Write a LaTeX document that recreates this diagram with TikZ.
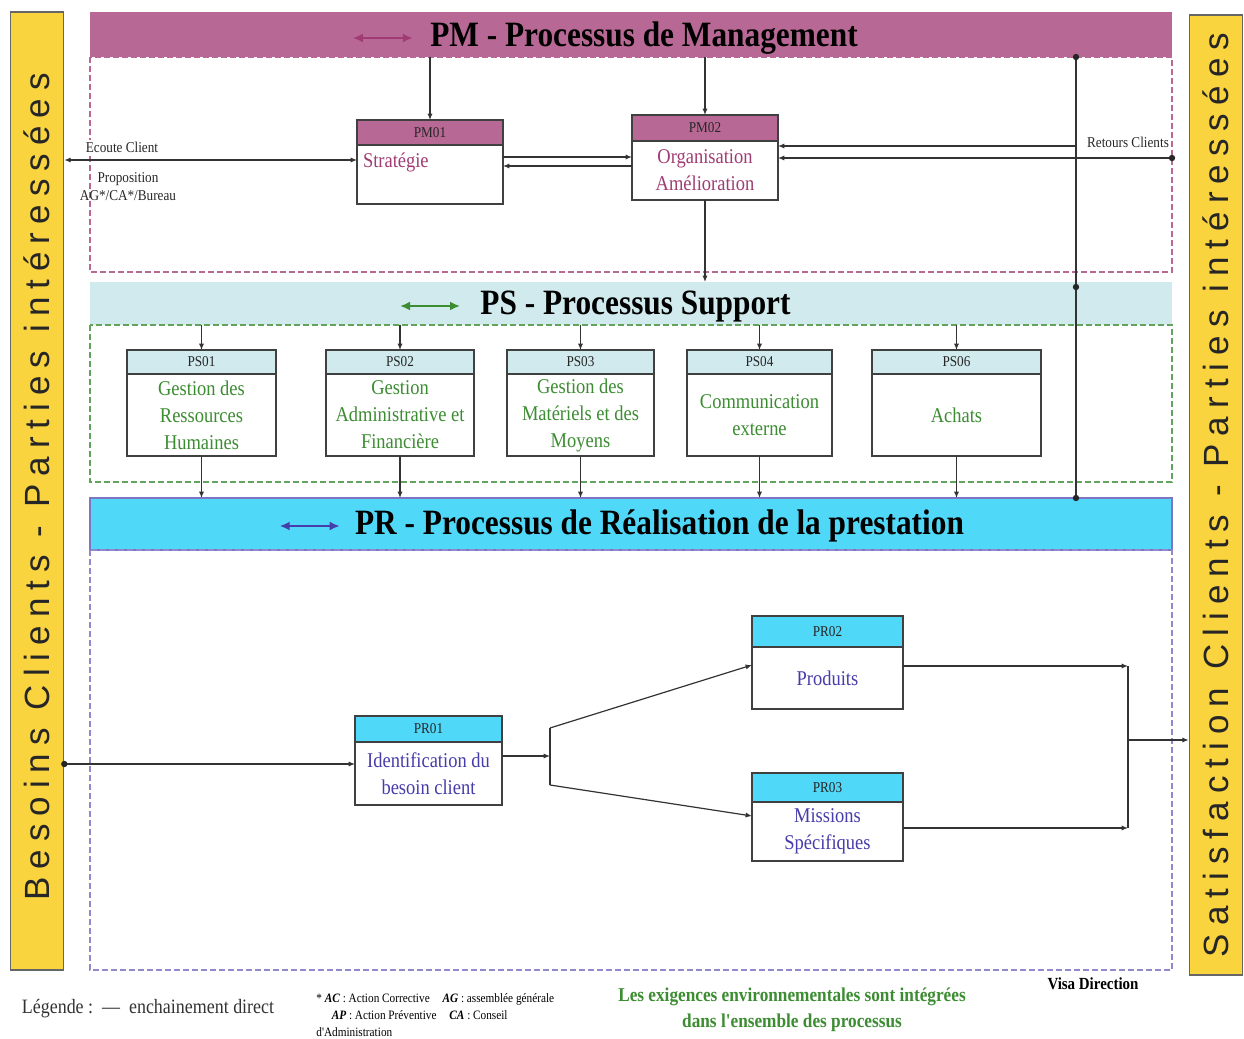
\documentclass[tikz,border=0pt]{standalone}
\usepackage{fontspec}
\setmainfont{Liberation Serif}
\newfontfamily\cfont[FakeStretch=0.88]{Liberation Serif}
\newfontfamily\barfont[LetterSpace=23]{Liberation Sans}
\usepackage{xcolor}
\usepackage{tikz}
\usetikzlibrary{positioning,calc}
\usetikzlibrary{arrows.meta}

\definecolor{pmrose}{RGB}{184,104,148}
\definecolor{pmtext}{RGB}{160,60,115}
\definecolor{psbleu}{RGB}{208,234,238}
\definecolor{psvert}{RGB}{60,140,50}
\definecolor{prcyan}{RGB}{80,216,248}
\definecolor{prtext}{RGB}{70,60,170}
\definecolor{jaune}{RGB}{250,212,62}

\tikzset{
  ligne/.style={draw=black!80, line width=0.6pt},
  fl/.style={ligne, -{Latex[length=3.2pt,width=2.6pt]}},
  fldeux/.style={ligne, {Latex[length=3.2pt,width=2.6pt]}-{Latex[length=3.2pt,width=2.6pt]}},
  barrow/.style={line width=1pt, {Latex[length=5pt,width=4.5pt]}-{Latex[length=5pt,width=4.5pt]}},
  titre/.style={font=\cfont\bfseries\fontsize{17.8}{20}\selectfont, inner sep=0pt},
  band/.style={minimum width=541pt, inner sep=0pt, outer sep=0pt},
  boxhead/.style={draw=black!75, line width=0.8pt, inner sep=0pt, outer sep=0pt,
    font=\cfont\fontsize{7.5}{9}\selectfont, text=black!85},
  boxbody/.style={draw=black!75, line width=0.8pt, fill=white, inner sep=0pt, outer sep=0pt,
    align=center, font=\cfont\fontsize{10.5}{13.5}\selectfont},
  petit/.style={font=\cfont\fontsize{7.5}{9}\selectfont, inner sep=1pt, text=black!85},
  barre/.style={fill=jaune, draw=black!60, line width=0.8pt, minimum width=26.5pt, inner sep=0pt},
  bartext/.style={rotate=90, font=\barfont\fontsize{17.5}{17.5}\selectfont, text=black!85}
}

\begin{document}
\begin{tikzpicture}[x=0.5pt,y=-0.5pt]
        \useasboundingbox (0,0) rectangle (1244,1039);
        % side bars
        \node[barre, minimum height=479pt] (lbar) at (37,491) {};
        \node[bartext] (lbart) at (37,487) {Besoins Clients - Parties intéressées};
        \node[barre, minimum height=480pt] (rbar) at (1216,495) {};
        \node[bartext] (rbart) at (1216,495) {Satisfaction Clients - Parties intéressées};
        % bands
        \node[band, fill=pmrose, minimum height=22.5pt] (pmband) at (631,34.5) {};
        \node[band, fill=psbleu, minimum height=21.5pt] (psband) at (631,303.5) {};
        \node[band, fill=prcyan, draw=prtext!70, line width=0.6pt, minimum height=26pt] (prband) at (631,524) {};
        \draw[dashed, pmrose, line width=0.6pt, dash pattern=on 3pt off 1.5pt] (90,57) rectangle (1172,272);
        \draw[dashed, psvert!80, line width=0.6pt, dash pattern=on 3pt off 1.5pt] (90,325) rectangle (1172,482);
        \draw[dashed, prtext!60, line width=0.6pt, dash pattern=on 3pt off 1.5pt] (90,550) rectangle (1172,970);
        \node[titre] (pmt) at (644,38) {PM - Processus de Management};
        \coordinate[left=8.5pt of pmt] (pma2);
        \coordinate[left=38.5pt of pmt] (pma1);
        \draw[barrow, pmtext] (pma1) -- (pma2);
        \node[titre] (pst) at (635.5,306) {PS - Processus Support};
        \coordinate[left=10pt of pst] (psa2);
        \coordinate[left=40pt of pst] (psa1);
        \draw[barrow, psvert] (psa1) -- (psa2);
        \node[titre] (prt) at (659.5,526) {PR - Processus de Réalisation de la prestation};
        \coordinate[left=7.5pt of prt] (pra2);
        \coordinate[left=37.5pt of prt] (pra1);
        \draw[barrow, prtext] (pra1) -- (pra2);
        % management
        \node[boxbody, text=pmtext, align=left, text width=67pt, minimum width=73pt, minimum height=29.5pt] (pm01) at (430,174.5) {Stratégie\\[-3pt]\strut};
        \node[boxhead, fill=pmrose, minimum width=73pt, minimum height=12.5pt, above=0pt of pm01] (pm01h) {PM01};
        \node[boxbody, text=pmtext, minimum width=73pt, minimum height=29.5pt] (pm02) at (705,170.5) {Organisation\\Amélioration};
        \node[boxhead, fill=pmrose, minimum width=73pt, minimum height=13pt, above=0pt of pm02] (pm02h) {PM02};
        % support
        \node[boxbody, text=psvert, minimum width=74.5pt, minimum height=41pt] (ps01) at (201.5,415) {Gestion des\\Ressources\\Humaines};
        \node[boxhead, fill=psbleu, minimum width=74.5pt, minimum height=12pt, above=0pt of ps01] (ps01h) {PS01};
        \node[boxbody, text=psvert, minimum width=74pt, minimum height=41pt] (ps02) at (400,415) {Gestion\\Administrative et\\Financière};
        \node[boxhead, fill=psbleu, minimum width=74pt, minimum height=12pt, above=0pt of ps02] (ps02h) {PS02};
        \node[boxbody, text=psvert, minimum width=73.5pt, minimum height=41pt] (ps03) at (580.5,415) {Gestion des\\Matériels et des\\Moyens};
        \node[boxhead, fill=psbleu, minimum width=73.5pt, minimum height=12pt, above=0pt of ps03] (ps03h) {PS03};
        \node[boxbody, text=psvert, minimum width=72.5pt, minimum height=41pt] (ps04) at (759.5,415) {Communication\\externe};
        \node[boxhead, fill=psbleu, minimum width=72.5pt, minimum height=12pt, above=0pt of ps04] (ps04h) {PS04};
        \node[boxbody, text=psvert, minimum width=84.5pt, minimum height=41pt] (ps06) at (956.5,415) {Achats};
        \node[boxhead, fill=psbleu, minimum width=84.5pt, minimum height=12pt, above=0pt of ps06] (ps06h) {PS06};
        % realisation
        \node[boxbody, text=prtext, minimum width=73.5pt, minimum height=31.5pt] (pr01) at (428.5,773.5) {Identification du\\besoin client};
        \node[boxhead, fill=prcyan, minimum width=73.5pt, minimum height=13pt, above=0pt of pr01] (pr01h) {PR01};
        \node[boxbody, text=prtext, minimum width=75.5pt, minimum height=31pt] (pr02) at (827.5,678) {Produits};
        \node[boxhead, fill=prcyan, minimum width=75.5pt, minimum height=15.5pt, above=0pt of pr02] (pr02h) {PR02};
        \node[boxbody, text=prtext, minimum width=75.5pt, minimum height=29.5pt] (pr03) at (827.5,831.5) {Missions\\Spécifiques};
        \node[boxhead, fill=prcyan, minimum width=75.5pt, minimum height=14.5pt, above=0pt of pr03] (pr03h) {PR03};
        % management links
        \draw[fl] (pm01h |- pmband.south) -- (pm01h.north);
        \draw[fl] (pm02h |- pmband.south) -- (pm02h.north);
        \coordinate (ec) at ([yshift=7.25pt]pm01.west);
        \draw[fldeux] (lbar.east |- ec) -- (ec);
        \node[petit, fill=white] (ecoute) at (122,147) {Ecoute Client};
        \node[petit, align=center] (propo) at (128,187) {Proposition\\AG*/CA*/Bureau};
        \coordinate (mg1) at ([yshift=8.75pt]pm01.east);
        \coordinate (mg2) at ([yshift=4.25pt]pm01.east);
        \draw[fl] (mg1) -- (mg1 -| pm02.west);
        \draw[fl] (mg2 -| pm02.west) -- (mg2);
        \coordinate (vt) at (1076,57);
        \coordinate (vm) at (1076,287);
        \coordinate (vb) at (1076,498);
        \coordinate (rc1) at (1172,158);
        \coordinate (rc2) at (1076,146);
        \draw[ligne] (vt) -- (vb);
        \draw[fl] (rc2) -- (rc2 -| pm02.east);
        \draw[fl] (rc1) -- (rc1 -| pm02.east);
        \fill[black!85] (vt) circle (1.6pt) (vm) circle (1.6pt) (vb) circle (1.6pt) (rc1) circle (1.6pt);
        \node[petit] (retours) at (1128,142) {Retours Clients};
        \draw[fl] (pm02.south) -- (pm02.south |- psband.north);
        % support links
        \draw[fl] (ps01h |- psband.south) -- (ps01h.north);
        \draw[fl] (ps02h |- psband.south) -- (ps02h.north);
        \draw[fl] (ps03h |- psband.south) -- (ps03h.north);
        \draw[fl] (ps04h |- psband.south) -- (ps04h.north);
        \draw[fl] (ps06h |- psband.south) -- (ps06h.north);
        \draw[fl] (ps01.south) -- (ps01.south |- prband.north);
        \draw[fl] (ps02.south) -- (ps02.south |- prband.north);
        \draw[fl] (ps03.south) -- (ps03.south |- prband.north);
        \draw[fl] (ps04.south) -- (ps04.south |- prband.north);
        \draw[fl] (ps06.south) -- (ps06.south |- prband.north);
        % realisation links
        \coordinate (bc) at ([yshift=4.75pt]pr01.west);
        \draw[fl] (lbar.east |- bc) -- (bc);
        \fill[black!85] (lbar.east |- bc) circle (1.6pt);
        \coordinate (fk) at (550,756);
        \coordinate (fkh) at (550,728);
        \coordinate (fkb) at (550,785);
        \draw[fl] (fk -| pr01.east) -- (fk);
        \draw[ligne] (fkh) -- (fkb);
        \coordinate (p2in) at ([yshift=6.5pt]pr02.west);
        \coordinate (p3in) at ([yshift=7.75pt]pr03.west);
        \draw[fl] (fkh) -- (p2in);
        \draw[fl] (fkb) -- (p3in);
        \coordinate (jn) at (1128,740);
        \coordinate (p2out) at ([yshift=6pt]pr02.east);
        \coordinate (p3out) at ([yshift=1.75pt]pr03.east);
        \draw[fl] (p2out) -- (p2out -| jn);
        \draw[fl] (p3out) -- (p3out -| jn);
        \draw[ligne] (p2out -| jn) -- (p3out -| jn);
        \draw[fl] (jn) -- (jn -| rbar.west);
        % legend
        \node[font=\cfont\fontsize{10.2}{11}\selectfont, text=black!80, inner sep=0pt] (leg) at (148,1009) {Légende :\ \ —\ \ enchainement direct};
        \node[font=\cfont\fontsize{6.4}{8.5}\selectfont, align=left, anchor=north west, inner sep=0pt] (abrev) at (316,993)
            {* \textbf{\textit{AC}} : Action Corrective\quad \textbf{\textit{AG}} : assemblée générale\\
             \hspace{1.2em}\textbf{\textit{AP}} : Action Préventive\quad \textbf{\textit{CA}} : Conseil\\
             d'Administration};
        \node[font=\cfont\bfseries\fontsize{9.8}{13}\selectfont, text=psvert, align=center, inner sep=0pt] (envir) at (792,1010)
            {Les exigences environnementales sont intégrées\\dans l'ensemble des processus};
        \node[font=\cfont\bfseries\fontsize{8.5}{10}\selectfont, inner sep=0pt] (visa) at (1093,984) {Visa Direction};
        \end{tikzpicture}
\end{document}
